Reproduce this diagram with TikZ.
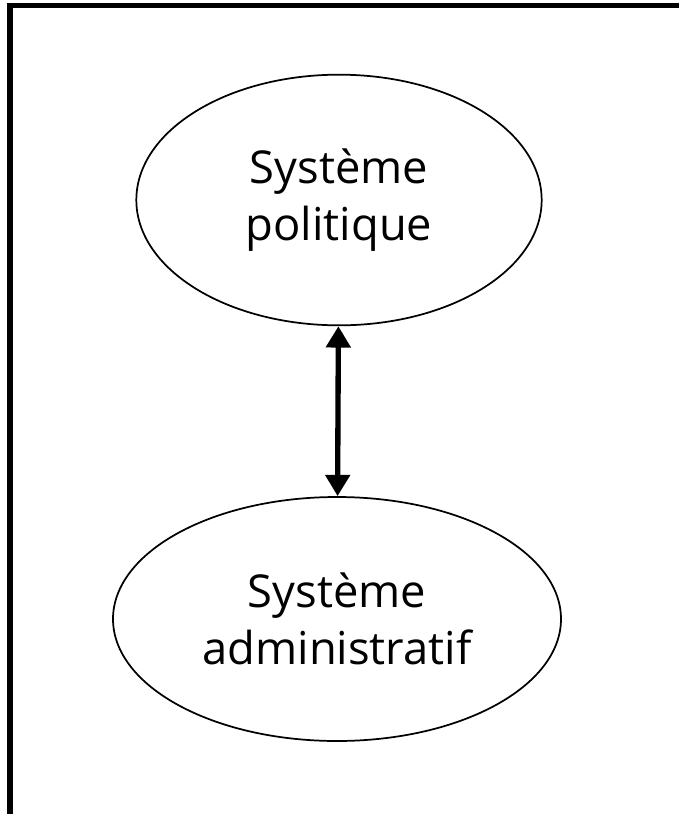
\documentclass[tikz,border=0pt]{standalone}
\usepackage{fontspec}
\setmainfont{Open Sans}
\usetikzlibrary{shapes.geometric,arrows.meta}
\tikzset{
  sysbox/.style={ellipse, draw=black, line width=1.3pt, align=center,
    inner sep=0pt, font=\fontsize{34}{43}\selectfont},
  linkarrow/.style={line width=4pt, {Triangle[width=18pt,length=16pt]}-{Triangle[width=18pt,length=16pt]}}
}
\begin{document}
\begin{tikzpicture}[x=0.75pt,y=-0.75pt]
\useasboundingbox (0,0) rectangle (679,814);
%--- Frame: top and left edges only ---
\draw[line width=4.2pt] (679,5.5) -- (10,5.5) -- (10,814);
%--- The two systems ---
\node[sysbox, minimum width=304pt, minimum height=188pt] (pol) at (339,200) {Système\\politique};
\node[sysbox, minimum width=336pt, minimum height=183pt] (adm) at (337,619) {Système\\administratif};
%--- Two-way link ---
\draw[linkarrow] (pol) -- (adm);
\end{tikzpicture}
\end{document}
